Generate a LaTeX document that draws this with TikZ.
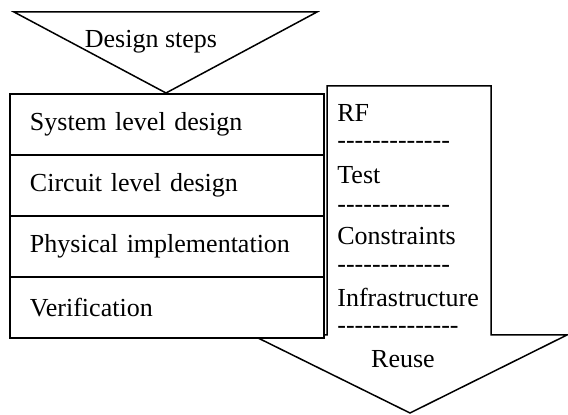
\documentclass[tikz,border=0pt]{standalone}
\usepackage{fontspec}
\setmainfont{Liberation Serif}
\usetikzlibrary{positioning}
\tikzset{x=0.5pt, y=-0.5pt, font=\fontsize{13}{15}\selectfont,
  stepbox/.style={rectangle, draw, line width=1pt, fill=white, minimum width=157pt, minimum height=30.5pt, text width=137pt, inner xsep=10pt, align=left},
  arrowshape/.style={draw, line width=0.75pt, fill=white},
  reuseitem/.style={anchor=west, inner sep=0pt}}
\newcommand\dashrow[1]{\foreach \k in {1,...,#1}{-}}

\begin{document}
\begin{tikzpicture}
        \useasboundingbox (0,0) rectangle (568,415);
        % reuse arrow and design steps triangle
        \draw[arrowshape] (327,86) -- (491,86) -- (491,335) -- (567,335) -- (410,413) -- (252,335) -- (327,335) -- cycle;
        \draw[arrowshape] (14,12) -- (317,12) -- (166,93) -- cycle;
        \node (steps) at (151,42) {Design steps};
        % design steps
        \node[stepbox, anchor=north west] (system) at (9,93) {System level design};
        \node[stepbox, below=-1pt of system] (circuit) {Circuit level design};
        \node[stepbox, below=-1pt of circuit] (physical) {Physical implementation};
        \node[stepbox, below=-1pt of physical] (verif) {Verification};
        % reuse items
        \node[reuseitem] (rf) at (337,113) {RF};
        \node[reuseitem] (sep1) at (337,145) {\dashrow{13}};
        \node[reuseitem] (test) at (337,175) {Test};
        \node[reuseitem] (sep2) at (337,209) {\dashrow{13}};
        \node[reuseitem] (constr) at (337,236) {Constraints};
        \node[reuseitem] (sep3) at (337,269) {\dashrow{13}};
        \node[reuseitem] (infra) at (337,297) {Infrastructure};
        \node[reuseitem] (sep4) at (337,330) {\dashrow{14}};
        \node (reuse) at (403,359) {Reuse};
    \end{tikzpicture}
\end{document}
